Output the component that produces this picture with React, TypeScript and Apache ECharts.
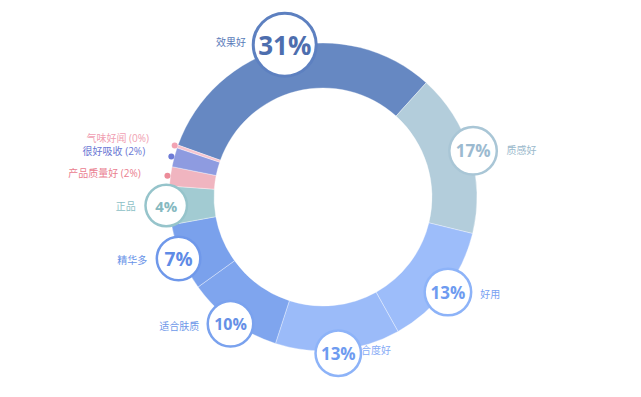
import React, { useEffect, useRef } from 'react';
import * as echarts from 'echarts';

const categories = ['效果好', '质感好', '好用', '适合度好', '适合肤质', '精华多', '正品', '产品质量好', '很好吸收', '气味好闻'];
const values = [31, 17, 13, 13, 10, 7, 4, 2, 2, 0.3];

const sliceColors = ['#6688c2', '#b3cddb', '#9dbdfa', '#9bbbf9', '#7fa5ee', '#7aa1ec', '#a2cbd2', '#f0b5c0', '#8e9be0', '#f6c4cf'];
const labelColors = ['#5a7bba', '#9ab9cc', '#78a2f2', '#86abf6', '#6e98e9', '#6893e8', '#8dbfc6', '#ea808f', '#6a77d4', '#f0a0b2'];
const badgeTextColors = ['#4d6eae', '#9cbad0', '#6e9bf0', '#6e9bf0', '#6690e6', '#5f8be6', '#86b9c0'];
const badgeBorderColors = ['#5d80c0', '#a9c6d6', '#8db3f8', '#8db3f8', '#7aa2ee', '#6f98ea', '#96c4cb'];
const badgeSizes = [60, 45, 44, 43, 43, 41, 39];
const badgeFonts = [26, 17, 17, 17, 16, 19, 15];
const dotColors = ['', '', '', '', '', '', '', '#ec8c99', '#6d7bd6', '#f2a3b3'];

const FONT = '"Open Sans", "Noto Sans CJK SC", sans-serif';
const CENTER: [number, number] = [323, 197];
const R0 = 109;
const R = 154;
const START = 160.3;

export default function App() {
  const ref = useRef<HTMLDivElement>(null);
  useEffect(() => {
    document.body.style.margin = '0';
    if (!ref.current) return;
    const chart = echarts.init(ref.current, undefined, { renderer: 'svg' });
    const total = values.reduce((a, b) => a + b, 0);
    const pct = values.map((v) => Math.round((v / total) * 100));
    // mid angles (used only to pick a label style for near-vertical slices)
    let acc = 0;
    const mids = values.map((v) => {
      const a0 = START - (acc / total) * 360;
      acc += v;
      const a1 = START - (acc / total) * 360;
      return ((a0 + a1) / 2) * Math.PI / 180;
    });
    const isBadge = (i: number) => i < badgeSizes.length;

    const ringData = categories.map((n, i) => ({ name: n, value: values[i], itemStyle: { color: sliceColors[i] } }));

    const nameData = categories.map((n, i) => {
      const big = isBadge(i);
      const nearVertical = Math.abs(Math.cos(mids[i])) < 0.15;
      return {
        name: n,
        value: values[i],
        label: {
          formatter: big ? n : `${n} (${pct[i]}%)`,
          color: labelColors[i],
        },
        labelLine: {
          show: false,
          length: big ? (nearVertical ? 0 : 6) : 25,
          length2: big ? (nearVertical ? 8 : badgeSizes[i] / 2 + 3) : 0,
        },
      };
    });

    const markerData = categories.map((n, i) => {
      if (isBadge(i)) {
        const d = badgeSizes[i];
        return {
          name: n,
          value: values[i],
          label: {
            formatter: `{b|${pct[i]}%}`,
            rich: {
              b: {
                width: d,
                height: d,
                lineHeight: d,
                align: 'center',
                verticalAlign: 'middle',
                borderRadius: d / 2,
                borderWidth: i === 0 ? 3 : 2.5,
                borderColor: badgeBorderColors[i],
                backgroundColor: '#ffffff',
                color: badgeTextColors[i],
                fontSize: badgeFonts[i],
                fontWeight: 'bold',
                fontFamily: FONT,
              },
            },
          },
        };
      }
      return {
        name: n,
        value: values[i],
        label: {
          formatter: '{d| }',
          rich: {
            d: {
              width: 6,
              height: 6,
              lineHeight: 6,
              borderRadius: 3,
              backgroundColor: dotColors[i],
              fontSize: 4,
            },
          },
        },
      };
    });

    chart.setOption({
      animation: false,
      backgroundColor: '#ffffff',
      series: [
        {
          type: 'pie',
          center: CENTER,
          radius: [R0, R],
          startAngle: START,
          clockwise: true,
          silent: true,
          avoidLabelOverlap: false,
          label: { show: false },
          labelLine: { show: false },
          itemStyle: { borderColor: 'rgba(255,255,255,0.35)', borderWidth: 1 },
          emphasis: { disabled: true },
          data: ringData,
        },
        {
          type: 'pie',
          center: CENTER,
          radius: [R, R],
          startAngle: START,
          clockwise: true,
          silent: true,
          avoidLabelOverlap: false,
          labelLayout: { hideOverlap: false },
          itemStyle: { color: 'rgba(0,0,0,0)', borderWidth: 0 },
          label: { show: true, position: 'outside', fontSize: 10, lineHeight: 11, fontFamily: FONT, distanceToLabelLine: 5 },
          emphasis: { disabled: true },
          data: nameData,
        },
        {
          type: 'pie',
          center: CENTER,
          radius: [R, R],
          startAngle: START,
          clockwise: true,
          silent: true,
          avoidLabelOverlap: false,
          labelLayout: { hideOverlap: false },
          itemStyle: { color: 'rgba(0,0,0,0)', borderWidth: 0 },
          label: { show: true, position: 'inside' },
          labelLine: { show: false },
          emphasis: { disabled: true },
          data: markerData,
        },
      ],
    });
    return () => chart.dispose();
  }, []);
  return <div ref={ref} style={{ position: 'fixed', left: 0, top: 0, width: 641, height: 397 }} />;
}
